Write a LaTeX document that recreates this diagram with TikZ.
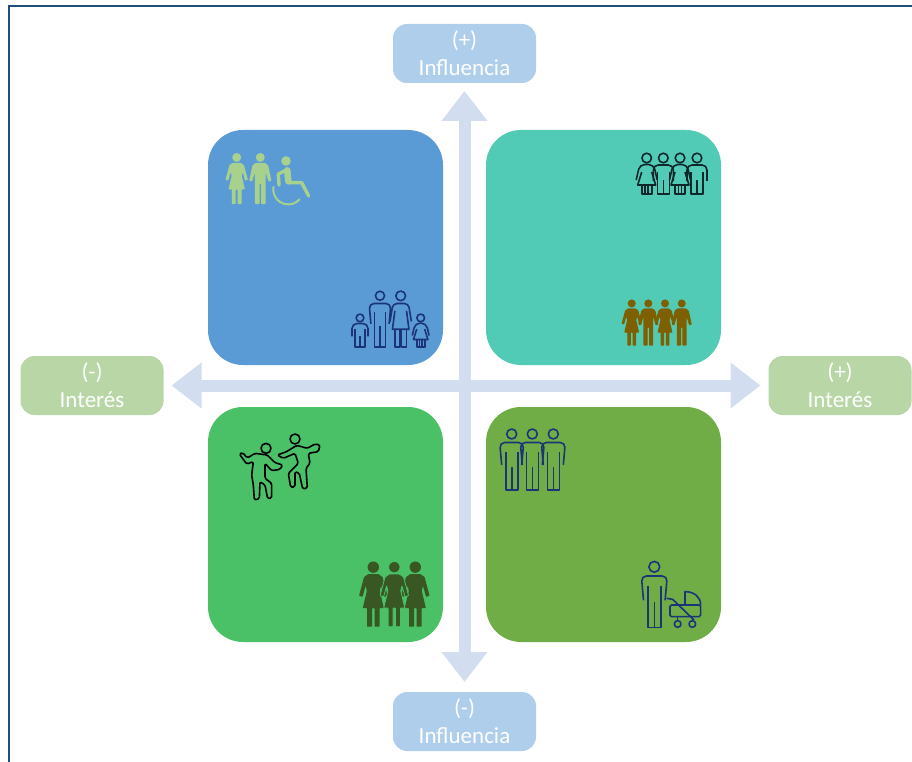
\documentclass[tikz,border=0pt]{standalone}
\usepackage{fontspec}
\setmainfont{Carlito}
\usetikzlibrary{positioning,arrows.meta}

\definecolor{framecol}{HTML}{1F4E79}
\definecolor{axiscol}{HTML}{D2DDF0}
\definecolor{inflcol}{HTML}{AFCEEB}
\definecolor{intercol}{HTML}{B9D6A6}
\definecolor{quadblue}{HTML}{5B9BD5}
\definecolor{quadteal}{HTML}{52CBB6}
\definecolor{quadgreen}{HTML}{4AC067}
\definecolor{quadolive}{HTML}{70AD47}
\definecolor{navycol}{HTML}{1B3478}
\definecolor{sagecol}{HTML}{A9D18E}
\definecolor{browncol}{HTML}{7F6000}
\definecolor{darkgreen}{HTML}{385723}
\definecolor{inkcol}{HTML}{10282C}

\tikzset{
	manline/.pic={
		\path [pic actions] (0,-56) circle [radius=5];
		\path [pic actions, rounded corners=5pt] (-10,-25) -- (-12,-47.5) -- (12,-47.5) -- (10,-25);
		\path [pic actions] (-6,-38) -- (-6,0) -- (6,0) -- (6,-38);
		\path [pic actions] (0,0) -- (0,-23);
	},
	womanline/.pic={
		\path [pic actions] (0,-52.4) circle [radius=5];
		\path [pic actions, rounded corners=4pt] (-11,-26) -- (-8,-44.5) -- (8,-44.5) -- (11,-26);
		\path [pic actions] (-6,-37) -- (-8.5,-18) -- (8.5,-18) -- (6,-37);
		\path [pic actions] (-6,-18) -- (-6,0) -- (-.8,0) -- (-.8,-18);
		\path [pic actions] (.8,-18) -- (.8,0) -- (6,0) -- (6,-18);
	},
	manshort/.pic={
		\path [pic actions] (0,-36) circle [radius=4.8];
		\path [pic actions, rounded corners=5pt] (-10,-13) -- (-10,-29) -- (10,-29) -- (10,-13);
		\path [pic actions] (-6,-22) -- (-6,0) -- (6,0) -- (6,-22);
		\path [pic actions] (0,0) -- (0,-14);
	},
	womanshort/.pic={
		\path [pic actions] (0,-36) circle [radius=4.8];
		\path [pic actions, rounded corners=5pt] (-10.5,-14) -- (-7,-29.5) -- (7,-29.5) -- (10.5,-14);
		\path [pic actions] (-5,-22) -- (-9,-9) -- (9,-9) -- (5,-22);
		\path [pic actions] (-5,-9) -- (-5,0) -- (5,0) -- (5,-9);
		\path [pic actions] (-1.5,-9) -- (-1.5,0);
		\path [pic actions] (1.5,-9) -- (1.5,0);
	},
	womanfill/.pic={
		\path [pic actions] (0,-48) circle [radius=4.6];
		\path [pic actions, rounded corners=.6pt] (4,-42.5) -- (7.5,-40) -- (11.5,-25) -- (8.7,-24) -- (6.2,-33) -- (5.2,-29)
			-- (8.5,-15) -- (5,-15) -- (5,0) -- (1,0) -- (1,-15) -- (-1,-15) -- (-1,0) -- (-5,0) -- (-5,-15)
			-- (-8.5,-15) -- (-5.2,-29) -- (-6.2,-33) -- (-8.7,-24) -- (-11.5,-25) -- (-7.5,-40) -- (-4,-42.5) -- cycle;
	},
	manfill/.pic={
		\path [pic actions] (0,-48) circle [radius=4.6];
		\path [pic actions, rounded corners=.8pt] (4.5,-42.5) -- (8,-40) -- (11.5,-24) -- (8.5,-23) -- (5.5,-33)
			-- (5.5,0) -- (.8,0) -- (.8,-21) -- (-.8,-21) -- (-.8,0) -- (-5.5,0) -- (-5.5,-33)
			-- (-8.5,-23) -- (-11.5,-24) -- (-8,-40) -- (-4.5,-42.5) -- cycle;
	},
	wheelchair/.pic={
		\path [pic actions, draw=none] (-2.3,-28.3) circle [radius=4.8];
		\path [pic actions, fill=none, line width=6.5pt, line cap=round, line join=round] (-1,-19) -- (0,-8);
		\path [pic actions, fill=none, line width=3.4pt, line cap=round, line join=round] (-1.5,-19.5) -- (-10,-15.3) -- (-9.3,-4.3);
		\path [pic actions, fill=none, line width=3.4pt, line cap=round, line join=round] (0,-6.6) -- (13.4,-6.6) -- (20.4,6.7);
		\path [pic actions, fill=none, line width=2pt] (-14.7,-3) arc [start angle=192, end angle=40, radius=15];
	},
	dancers/.pic={
		\begin{scope}[scale=1/3]
			\path [pic actions] (138,85) circle [radius=15];
			\path [pic actions] (225,57) circle [radius=15];
			\path [pic actions, rounded corners=1.5pt] (58,102) -- (68,98) -- (82,114) -- (105,100) -- (142,105) -- (165,128) -- (188,135) -- (180,148)
				-- (155,152) -- (135,130) -- (135,175) -- (155,190) -- (155,234) -- (143,236) -- (135,195) -- (120,185)
				-- (118,236) -- (103,240) -- (100,195) -- (95,165) -- (100,125) -- (80,132) -- cycle;
			\path [pic actions, rounded corners=1.5pt] (300,75) -- (295,95) -- (265,100) -- (270,130) -- (258,145) -- (262,204)
				-- (248,207) -- (238,160) -- (225,155) -- (225,200) -- (212,202) -- (205,160) -- (235,130) -- (225,100)
				-- (190,115) -- (172,105) -- (200,95) -- (230,76) -- (262,85) -- (285,72) -- cycle;
		\end{scope}
	},
	stroller/.pic={
		\begin{scope}[scale=1/3]
			\path [pic actions] (530,535) -- (548,538) -- (612,600);
			\path [pic actions, rounded corners=1.5pt] (540,555) -- (632,555) -- (632,590) -- (540,590) -- cycle;
			\path [pic actions] (585,555) -- (585,515) .. controls (612,515) and (632,530) .. (632,555);
			\path [pic actions] (563,612) circle [radius=10];
			\path [pic actions] (607,612) circle [radius=10];
			\path [pic actions] (563,590) -- (563,602);
			\path [pic actions] (607,590) -- (607,602);
		\end{scope}
	},
}

\begin{document}
\begin{tikzpicture}[
		x=1pt,
		y=-1pt,
		quad/.style={
			rectangle,
			rounded corners=35pt,
			minimum width=235pt,
			minimum height=235pt,
			inner sep=0pt,
			outer sep=0pt,
		},
		axislabel/.style={
			rectangle,
			rounded corners=14pt,
			minimum width=143pt,
			minimum height=59pt,
			inner sep=0pt,
			outer sep=0pt,
			align=center,
			text=white,
			font=\fontsize{23}{28}\selectfont,
		},
		axis/.style={
			axiscol,
			line width=12pt,
			{Triangle[width=44pt,length=30pt]}-{Triangle[width=44pt,length=30pt]},
		},
		iconline/.style={
			line width=1.6pt,
			line join=round,
		},
	]

	\useasboundingbox (0,0) rectangle (912,762);
	\draw [framecol, line width=2pt] (8.5,762) -- (8.5,6.5) -- (912,6.5);

	\node [quad, fill=quadblue] (TL) at (325.5,247.5) {};
	\node [quad, fill=quadteal, right=43pt of TL] (TR) {};
	\node [quad, fill=quadgreen, below=42pt of TL] (BL) {};
	\node [quad, fill=quadolive, right=43pt of BL] (BR) {};

	\node [axislabel, fill=inflcol] (Ip) at (464.5,53.5) {(+)\\Influencia};
	\node [axislabel, fill=inflcol] (Im) at (464.5,721.5) {(-)\\Influencia};
	\node [axislabel, fill=intercol] (Em) at (92,385.5) {(-)\\Interés};
	\node [axislabel, fill=intercol] (Ep) at (840,385.5) {(+)\\Interés};

	\draw [axis, shorten <=8pt, shorten >=10pt] (Ip) -- (Im);
	\draw [axis, shorten <=8pt, shorten >=8pt] (Em) -- (Ep);

	% top left
	\pic [fill=sagecol, scale=.97] at (236.7,204) {womanfill};
	\pic [fill=sagecol, scale=.97] at (260.3,204) {manfill};
	\pic [fill=sagecol, draw=sagecol] at (288.3,189.3) {wheelchair};
	\pic [iconline, draw=navycol, scale=.8] at (360,346.7) {manshort};
	\pic [iconline, draw=navycol, scale=.91] at (380,346.7) {manline};
	\pic [iconline, draw=navycol, scale=.97] at (400.7,346.7) {womanline};
	\pic [iconline, draw=navycol, scale=.8] at (420.7,346.7) {womanshort};

	% top right
	\foreach \px in {646.7,680} {
		\pic [iconline, draw=inkcol] at (\px,194) {womanshort};
	}
	\foreach \px in {663.3,697} {
		\pic [iconline, draw=inkcol] at (\px,194) {manshort};
	}
	\foreach \px in {631.7,665} {
		\pic [fill=browncol, scale=.88] at (\px,345.7) {womanfill};
	}
	\foreach \px in {648.3,681.7} {
		\pic [fill=browncol, scale=.88] at (\px,345.7) {manfill};
	}

	% bottom left
	\pic [iconline, draw=black] at (220,420) {dancers};
	\pic [fill=darkgreen, scale=1.24] at (373.3,626.7) {womanfill};
	\pic [fill=darkgreen, scale=1.24] at (415.3,626.7) {womanfill};
	\pic [fill=darkgreen, draw=quadgreen, line width=.8pt, scale=1.24] at (394.3,626.7) {womanfill};

	% bottom right
	\foreach \px in {511.7,532.3,553.3} {
		\pic [iconline, draw=navycol] at (\px,490) {manline};
	}
	\pic [iconline, draw=navycol, scale=1.08] at (654.3,627.3) {manline};
	\pic [iconline, draw=navycol] at (490,420) {stroller};

\end{tikzpicture}
\end{document}
